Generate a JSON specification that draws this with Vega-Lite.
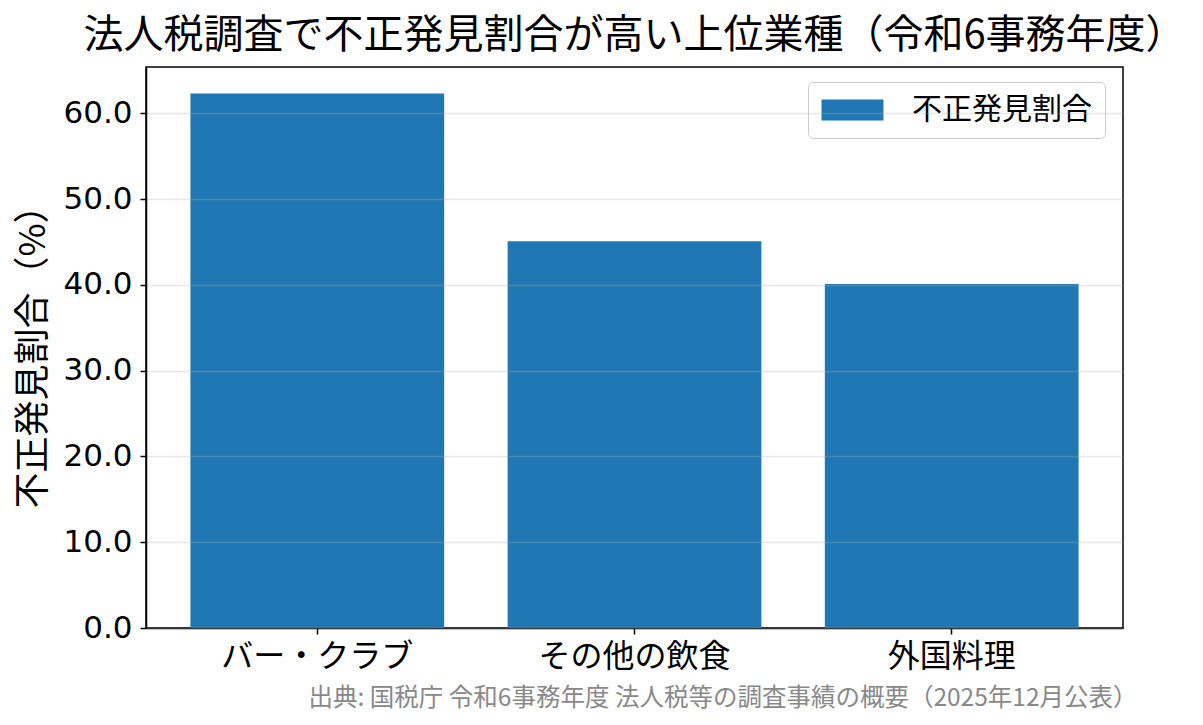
{
  "$schema": "https://vega.github.io/schema/vega-lite/v6.json",
  "autosize": {"type": "none"},
  "width": 977,
  "height": 561,
  "padding": {"left": 146, "top": 67, "right": 80, "bottom": 97},
  "background": "white",
  "config": {
    "font": "Noto Sans CJK JP",
    "view": {"stroke": "#000000", "strokeWidth": 1.5}
  },
  "title": {
    "text": "法人税調査で不正発見割合が高い上位業種（令和6事務年度）",
    "fontSize": 40,
    "fontWeight": "normal",
    "color": "#000000",
    "anchor": "middle",
    "offset": 11
  },
  "data": {
    "values": [
      {"業種": "バー・クラブ", "割合": 62.3, "系列": "不正発見割合"},
      {"業種": "その他の飲食", "割合": 45.1, "系列": "不正発見割合"},
      {"業種": "外国料理", "割合": 40.1, "系列": "不正発見割合"}
    ]
  },
  "mark": {"type": "bar"},
  "encoding": {
    "x": {
      "field": "業種",
      "type": "nominal",
      "sort": null,
      "scale": {"paddingInner": 0.2, "paddingOuter": 0.14},
      "axis": {
        "title": "出典: 国税庁 令和6事務年度 法人税等の調査事績の概要（2025年12月公表）",
        "titleColor": "#888888",
        "titleFontSize": 24.5,
        "titleFontWeight": "normal",
        "titleAnchor": "end",
        "titleAlign": "right",
        "titleBaseline": "middle",
        "titleX": 991,
        "titleY": 70,
        "labelAngle": 0,
        "labelFontSize": 32,
        "labelLimit": 0,
        "labelColor": "#000000",
        "labelPadding": 7,
        "tickColor": "#000000",
        "tickSize": 6,
        "tickWidth": 1.5,
        "domainColor": "#000000",
        "domainWidth": 1.5
      }
    },
    "y": {
      "field": "割合",
      "type": "quantitative",
      "scale": {"domain": [0, 65.4], "nice": false},
      "axis": {
        "title": "不正発見割合（%）",
        "titleFontSize": 36,
        "titleFontWeight": "normal",
        "titleColor": "#000000",
        "titlePadding": 10,
        "values": [0, 10, 20, 30, 40, 50, 60],
        "format": ".1f",
        "labelFont": "DejaVu Sans",
        "labelFontSize": 31,
        "labelColor": "#000000",
        "labelPadding": 8,
        "tickColor": "#000000",
        "tickSize": 6,
        "tickWidth": 1.5,
        "domainColor": "#000000",
        "domainWidth": 1.5,
        "grid": true,
        "gridColor": "#b0b0b0",
        "gridOpacity": 0.3,
        "gridWidth": 1.5,
        "zindex": 1
      }
    },
    "color": {
      "field": "系列",
      "type": "nominal",
      "scale": {"range": ["#1f77b4"]},
      "legend": {
        "title": null,
        "orient": "none",
        "legendX": 662,
        "legendY": 15,
        "padding": 13,
        "strokeColor": "#cccccc",
        "fillColor": "#ffffff",
        "cornerRadius": 5,
        "symbolType": "M-1.38,-1 L4.52,-1 L4.52,1 L-1.38,1 Z",
        "symbolSize": 441,
        "symbolStrokeWidth": 0,
        "symbolOpacity": 1,
        "labelFontSize": 30,
        "labelLimit": 0,
        "labelColor": "#000000",
        "labelOffset": 61
      }
    }
  }
}
